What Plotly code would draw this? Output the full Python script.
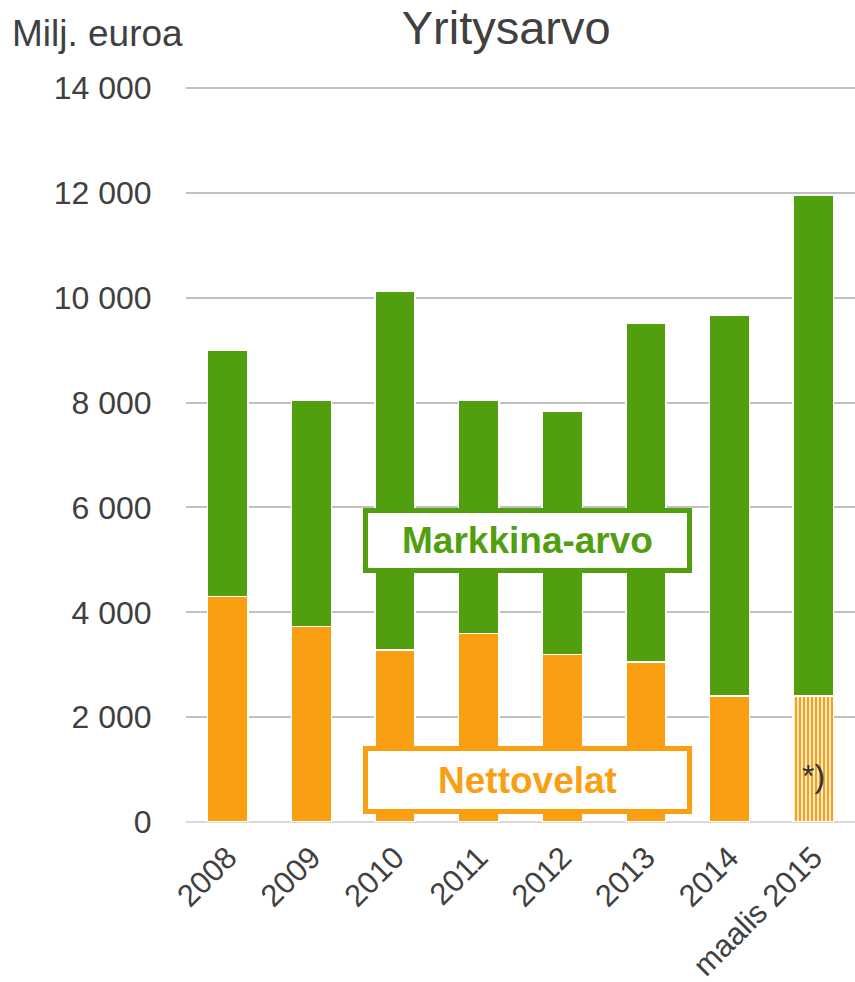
import plotly.graph_objects as go

# Enterprise value, million euros: net debt + market capitalisation
categories = ["2008", "2009", "2010", "2011", "2012", "2013", "2014", "maalis 2015"]
nettovelat = [4300, 3730, 3280, 3600, 3200, 3050, 2400, 2400]
markkina_arvo = [4700, 4310, 6850, 4440, 4630, 6470, 7260, 9560]
tick_values = [0, 2000, 4000, 6000, 8000, 10000, 12000, 14000]
tick_labels = ["0", "2 000", "4 000", "6 000", "8 000", "10 000", "12 000", "14 000"]

GREEN = "#519F0E"
ORANGE = "#FA9F12"
TEXT = "#404040"
FONT = "Liberation Sans, Arial, sans-serif"

# last bar's net debt is an estimate -> striped fill
debt_pattern = [""] * (len(categories) - 1) + ["|"]

fig = go.Figure()
fig.add_trace(go.Bar(
    x=categories, y=nettovelat, name="Nettovelat",
    marker=dict(
        color=ORANGE,
        line=dict(color="white", width=1.5),
        pattern=dict(shape=debt_pattern, fgcolor=ORANGE, bgcolor="white",
                     size=4, solidity=0.6, fillmode="replace"),
    ),
))
fig.add_trace(go.Bar(
    x=categories, y=markkina_arvo, name="Markkina-arvo",
    marker=dict(color=GREEN, line=dict(color="white", width=1.5)),
))

fig.update_layout(
    width=855, height=982,
    barmode="stack", bargap=0.52,
    showlegend=False,
    plot_bgcolor="white", paper_bgcolor="white",
    margin=dict(l=186, r=0, t=86, b=160),
    font=dict(family=FONT, color=TEXT),
    title=dict(text="Yritysarvo", xref="container", yref="container",
               x=0.592, xanchor="center", y=1 - 28 / 982, yanchor="middle",
               font=dict(size=47, color=TEXT, family=FONT)),
    xaxis=dict(
        tickangle=-45, tickfont=dict(size=31, color=TEXT),
        showgrid=False, showline=False, ticks="outside", ticklen=4,
        tickcolor="rgba(0,0,0,0)",
    ),
    yaxis=dict(
        range=[0, 14040], tickvals=tick_values, ticktext=tick_labels,
        tickfont=dict(size=32, color=TEXT),
        showgrid=True, gridcolor="#BFBFBF", gridwidth=2,
        zeroline=True, zerolinecolor="#D9D9D9", zerolinewidth=2,
        ticks="outside", ticklen=27, tickcolor="rgba(0,0,0,0)",
        showline=False,
    ),
    annotations=[
        dict(text="Milj. euroa", xref="paper", yref="paper",
             x=-176 / 669, xanchor="left", y=1 + 53 / 736, yanchor="middle",
             showarrow=False, font=dict(size=37, color=TEXT, family=FONT)),
        dict(text="<b>Markkina-arvo</b>", xref="paper", yref="paper",
             x=0.5105, y=0.383, xanchor="center", yanchor="middle",
             showarrow=False, font=dict(size=37, color=GREEN, family=FONT),
             bgcolor="white", bordercolor=GREEN, borderwidth=5, borderpad=0,
             width=319, height=55),
        dict(text="<b>Nettovelat</b>", xref="paper", yref="paper",
             x=0.5105, y=0.0571, xanchor="center", yanchor="middle",
             showarrow=False, font=dict(size=37, color=ORANGE, family=FONT),
             bgcolor="white", bordercolor=ORANGE, borderwidth=5, borderpad=0,
             width=319, height=58),
        dict(text="*)", x="maalis 2015", y=880, xref="x", yref="y",
             showarrow=False, font=dict(size=32, color="#333333", family=FONT)),
    ],
)

fig.write_html("out.html")
